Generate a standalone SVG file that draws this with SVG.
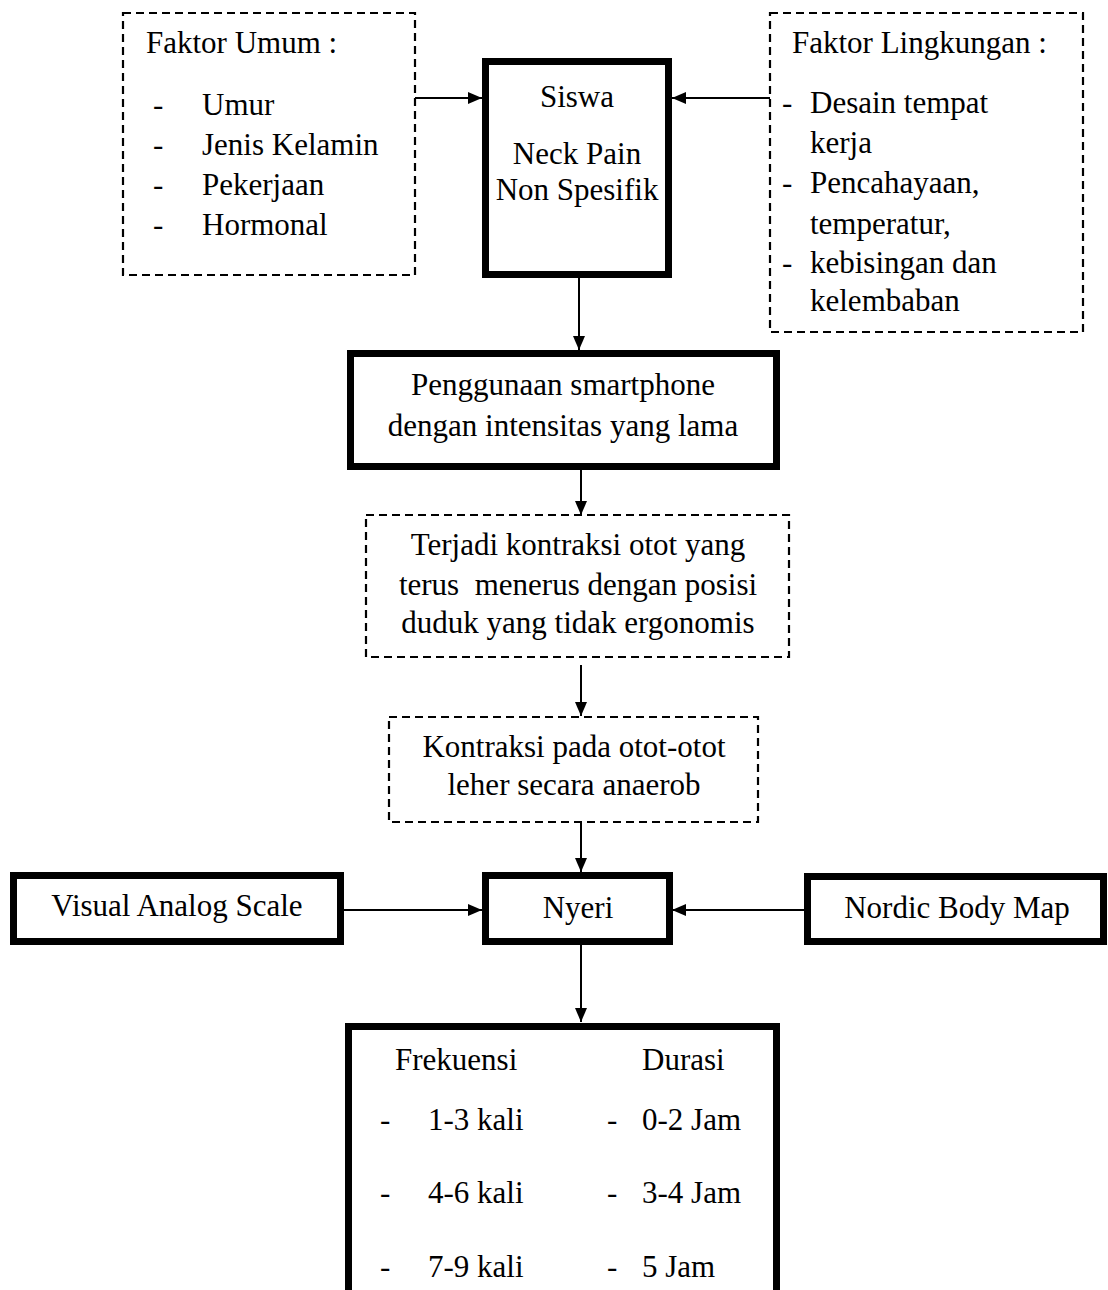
<svg xmlns="http://www.w3.org/2000/svg" width="1108" height="1290" viewBox="0 0 1108 1290">
<style>
text{font-family:"Liberation Serif","Times New Roman",serif;font-size:31px;fill:#000;white-space:pre}
.c{text-anchor:middle}
.thick{fill:#fff;stroke:#000;stroke-width:7}
.dash{fill:#fff;stroke:#000;stroke-width:2.2;stroke-dasharray:8 5}
.conn{stroke:#000;stroke-width:2;fill:none;marker-end:url(#ah)}
</style>
<defs>
<marker id="ah" viewBox="0 0 14 12" refX="14" refY="6" markerWidth="14" markerHeight="12" markerUnits="userSpaceOnUse" orient="auto">
<path d="M0,0 L14,6 L0,12 z" fill="#000"/>
</marker>
</defs>
<rect width="1108" height="1290" fill="#fff"/>

<g id="faktor-umum">
<rect class="dash" x="123" y="13" width="292" height="262"/>
<text x="146" y="53">Faktor Umum :</text>
<text x="153" y="115">-</text><text x="202" y="115">Umur</text>
<text x="153" y="155">-</text><text x="202" y="155">Jenis Kelamin</text>
<text x="153" y="195">-</text><text x="202" y="195">Pekerjaan</text>
<text x="153" y="235">-</text><text x="202" y="235">Hormonal</text>
</g>

<g id="siswa">
<rect class="thick" x="485.5" y="61.5" width="183" height="213"/>
<text class="c" x="577" y="107">Siswa</text>
<text class="c" x="577" y="164">Neck Pain</text>
<text class="c" x="577" y="200">Non Spesifik</text>
</g>

<g id="faktor-lingkungan">
<rect class="dash" x="770" y="13" width="313" height="319"/>
<text x="792" y="53">Faktor Lingkungan :</text>
<text x="782" y="113">-</text><text x="810" y="113">Desain tempat</text>
<text x="810" y="153">kerja</text>
<text x="782" y="193">-</text><text x="810" y="193">Pencahayaan,</text>
<text x="810" y="234">temperatur,</text>
<text x="782" y="273">-</text><text x="810" y="273">kebisingan dan</text>
<text x="810" y="311">kelembaban</text>
</g>

<g id="penggunaan">
<rect class="thick" x="350.5" y="353.5" width="426" height="113"/>
<text class="c" x="563" y="395">Penggunaan smartphone</text>
<text class="c" x="563" y="436">dengan intensitas yang lama</text>
</g>

<g id="kontraksi-terus">
<rect class="dash" x="366" y="515" width="423" height="142"/>
<text class="c" x="578" y="555">Terjadi kontraksi otot yang</text>
<text class="c" x="578" y="595">terus  menerus dengan posisi</text>
<text class="c" x="578" y="633">duduk yang tidak ergonomis</text>
</g>

<g id="kontraksi-anaerob">
<rect class="dash" x="389" y="717" width="369" height="105"/>
<text class="c" x="574" y="757">Kontraksi pada otot-otot</text>
<text class="c" x="574" y="795">leher secara anaerob</text>
</g>

<g id="vas">
<rect class="thick" x="13.5" y="875.5" width="327" height="66"/>
<text class="c" x="177" y="916">Visual Analog Scale</text>
</g>

<g id="nyeri">
<rect class="thick" x="485.5" y="875.5" width="184" height="66"/>
<text class="c" x="578" y="918">Nyeri</text>
</g>

<g id="nordic">
<rect class="thick" x="807.5" y="876.5" width="296" height="65"/>
<text class="c" x="957" y="918">Nordic Body Map</text>
</g>

<g id="frekuensi-durasi">
<path d="M348.5,1300 V1026.5 H776.5 V1300" fill="#fff" stroke="#000" stroke-width="7"/>
<text x="395" y="1070">Frekuensi</text>
<text x="642" y="1070">Durasi</text>
<text x="380" y="1130">-</text><text x="428" y="1130">1-3 kali</text>
<text x="607" y="1130">-</text><text x="642" y="1130">0-2 Jam</text>
<text x="380" y="1203">-</text><text x="428" y="1203">4-6 kali</text>
<text x="607" y="1203">-</text><text x="642" y="1203">3-4 Jam</text>
<text x="380" y="1277">-</text><text x="428" y="1277">7-9 kali</text>
<text x="607" y="1277">-</text><text x="642" y="1277">5 Jam</text>
</g>

<g id="connectors">
<path class="conn" d="M415,98 H482"/>
<path class="conn" d="M770,98 H672"/>
<path class="conn" d="M579,278 V350"/>
<path class="conn" d="M581,470 V515"/>
<path class="conn" d="M581,665 V716"/>
<path class="conn" d="M581,823 V872"/>
<path class="conn" d="M344,910 H482"/>
<path class="conn" d="M804,910 H672"/>
<path class="conn" d="M581,945 V1022"/>
</g>
</svg>
